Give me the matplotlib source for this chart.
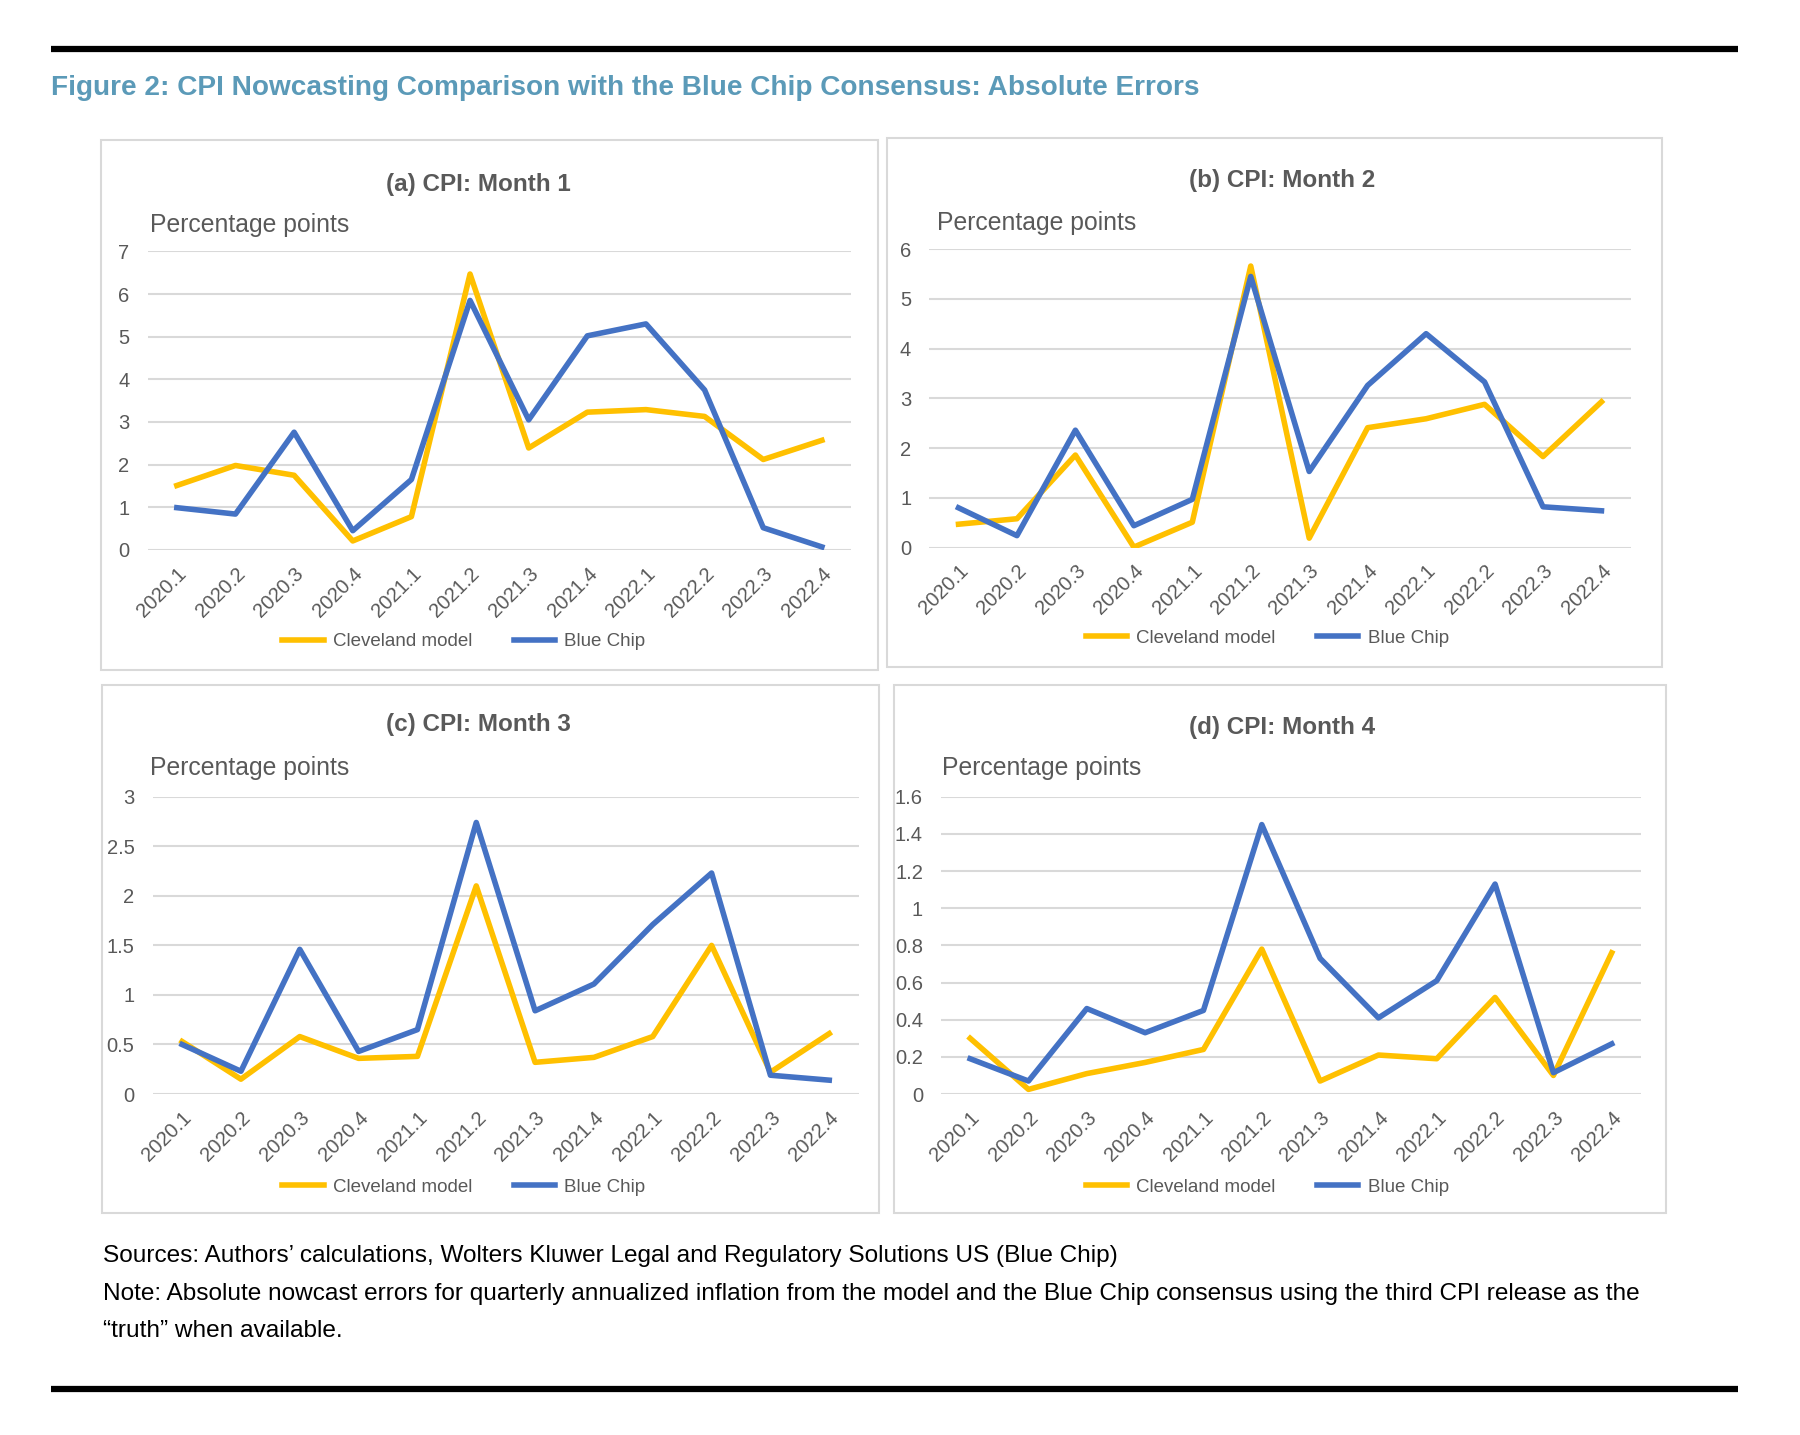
import matplotlib
matplotlib.use("Agg")
import matplotlib.pyplot as plt
from matplotlib.patches import Rectangle
from matplotlib.lines import Line2D

plt.rcParams["font.family"] = ["Liberation Sans", "DejaVu Sans"]

quarters = ["2020.1", "2020.2", "2020.3", "2020.4", "2021.1", "2021.2",
            "2021.3", "2021.4", "2022.1", "2022.2", "2022.3", "2022.4"]

# absolute errors, percentage points
cleve_m1 = [1.51, 1.98, 1.75, 0.21, 0.78, 6.47, 2.39, 3.23, 3.29, 3.13, 2.12, 2.57]
blue_m1 = [0.99, 0.84, 2.76, 0.45, 1.65, 5.85, 3.05, 5.02, 5.30, 3.75, 0.52, 0.07]
cleve_m2 = [0.47, 0.58, 1.86, 0.01, 0.51, 5.66, 0.19, 2.41, 2.59, 2.88, 1.83, 2.93]
blue_m2 = [0.80, 0.24, 2.36, 0.44, 0.97, 5.45, 1.53, 3.26, 4.30, 3.33, 0.82, 0.74]
cleve_m3 = [0.53, 0.15, 0.58, 0.36, 0.38, 2.10, 0.32, 0.37, 0.58, 1.50, 0.22, 0.61]
blue_m3 = [0.50, 0.23, 1.46, 0.43, 0.65, 2.74, 0.84, 1.11, 1.71, 2.23, 0.19, 0.14]
cleve_m4 = [0.30, 0.025, 0.11, 0.17, 0.24, 0.78, 0.07, 0.21, 0.19, 0.52, 0.10, 0.76]
blue_m4 = [0.19, 0.07, 0.46, 0.33, 0.45, 1.45, 0.73, 0.41, 0.61, 1.13, 0.115, 0.27]

titles = ["(a) CPI: Month 1", "(b) CPI: Month 2", "(c) CPI: Month 3", "(d) CPI: Month 4"]
yticks = [list(range(0, 8)), list(range(0, 7)), [0, 0.5, 1, 1.5, 2, 2.5, 3],
          [0, 0.2, 0.4, 0.6, 0.8, 1, 1.2, 1.4, 1.6]]
yticklabels = [[str(v) for v in yticks[0]], [str(v) for v in yticks[1]],
               ["0", "0.5", "1", "1.5", "2", "2.5", "3"],
               ["0", "0.2", "0.4", "0.6", "0.8", "1", "1.2", "1.4", "1.6"]]

YEL, BLU, GRAY, GRID = "#FFC000", "#4472C4", "#595959", "#d9d9d9"
W, H = 1568.0, 1250.0  # layout measured on a reduced view of the page
LW = 4.0


def fx(x):
    return x / W


def fy(y):
    return 1 - y / H


fig = plt.figure(figsize=(18, 14.35), dpi=100)

# panel layout: box (x0, y0, x1, y1), plot area (x0, x1, ytop, ybot), title xy, ylabel xy, legend xy
panels = [
    dict(box=(88, 122, 765, 584), ax=(128.5, 741.5, 219, 479), t=(417, 161), pp=(131, 196), lg=(404, 559)),
    dict(box=(773, 120, 1448, 581), ax=(809.5, 1420.5, 217, 477), t=(1117, 157), pp=(816, 194), lg=(1104, 556)),
    dict(box=(89, 597, 766, 1057), ax=(133, 748, 694, 953), t=(417, 631), pp=(131, 669), lg=(404, 1034)),
    dict(box=(779, 597, 1451, 1057), ax=(819.7, 1429.4, 694, 953), t=(1117, 634), pp=(821, 669), lg=(1104, 1034)),
]
series = [(cleve_m1, blue_m1), (cleve_m2, blue_m2), (cleve_m3, blue_m3), (cleve_m4, blue_m4)]

for i, p in enumerate(panels):
    bx0, by0, bx1, by1 = p["box"]
    fig.patches.append(Rectangle((fx(bx0), fy(by1)), fx(bx1 - bx0), (by1 - by0) / H,
                                 transform=fig.transFigure, fill=False, ec=GRID, lw=1.5))
    ax0, ax1, yt, yb = p["ax"]
    ax = fig.add_axes([fx(ax0), fy(yb), fx(ax1 - ax0), (yb - yt) / H])
    cl, bl = series[i]
    x = list(range(len(quarters)))
    ax.plot(x, cl, color=YEL, lw=LW, solid_joinstyle="round", label="Cleveland model")
    ax.plot(x, bl, color=BLU, lw=LW, solid_joinstyle="round", label="Blue Chip")
    ax.set_xlim(-0.5, len(quarters) - 0.5)
    ax.set_ylim(yticks[i][0], yticks[i][-1])
    ax.set_yticks(yticks[i])
    ax.set_yticklabels(yticklabels[i])
    ax.set_xticks(x)
    ax.set_xticklabels(quarters, rotation=45, ha="right", va="top", rotation_mode="anchor")
    ax.tick_params(length=0, colors=GRAY)
    ax.tick_params(axis="y", pad=13, labelsize=14.5)
    ax.tick_params(axis="x", pad=10, labelsize=14.5)
    ax.grid(axis="y", color=GRID, lw=1.5)
    ax.set_axisbelow(True)
    for s in ax.spines.values():
        s.set_visible(False)
    fig.text(fx(p["t"][0]), fy(p["t"][1]), titles[i], ha="center", va="center",
             fontsize=17.5, fontweight="bold", color=GRAY)
    fig.text(fx(p["pp"][0]), fy(p["pp"][1]), "Percentage points", ha="left", va="center",
             fontsize=17.8, color=GRAY)
    handles = [Line2D([], [], color=YEL, lw=LW), Line2D([], [], color=BLU, lw=LW)]
    fig.legend(handles, ["Cleveland model", "Blue Chip"], loc="center",
               bbox_to_anchor=(fx(p["lg"][0]), fy(p["lg"][1])), ncol=2, frameon=False,
               fontsize=13.5, labelcolor=GRAY, handlelength=2.2, handletextpad=0.5,
               columnspacing=2.2)

# rules and text
for yy in (43, 1210):
    fig.add_artist(Line2D([fx(44), fx(1514)], [fy(yy), fy(yy)], color="black", lw=4.5,
                          solid_capstyle="butt", transform=fig.transFigure))
fig.text(fx(44), fy(77), "Figure 2: CPI Nowcasting Comparison with the Blue Chip Consensus: Absolute Errors",
         ha="left", va="center", fontsize=20.2, fontweight="bold", color="#5b9ab8")
fig.text(fx(90), fy(1094), "Sources: Authors\u2019 calculations, Wolters Kluwer Legal and Regulatory Solutions US (Blue Chip)",
         ha="left", va="center", fontsize=17.6, color="black")
fig.text(fx(90), fy(1127), "Note: Absolute nowcast errors for quarterly annualized inflation from the model and the Blue Chip consensus using the third CPI release as the",
         ha="left", va="center", fontsize=17.6, color="black")
fig.text(fx(90), fy(1159), "\u201ctruth\u201d when available.",
         ha="left", va="center", fontsize=17.6, color="black")

fig.savefig("out.png", dpi=100, facecolor="white")
